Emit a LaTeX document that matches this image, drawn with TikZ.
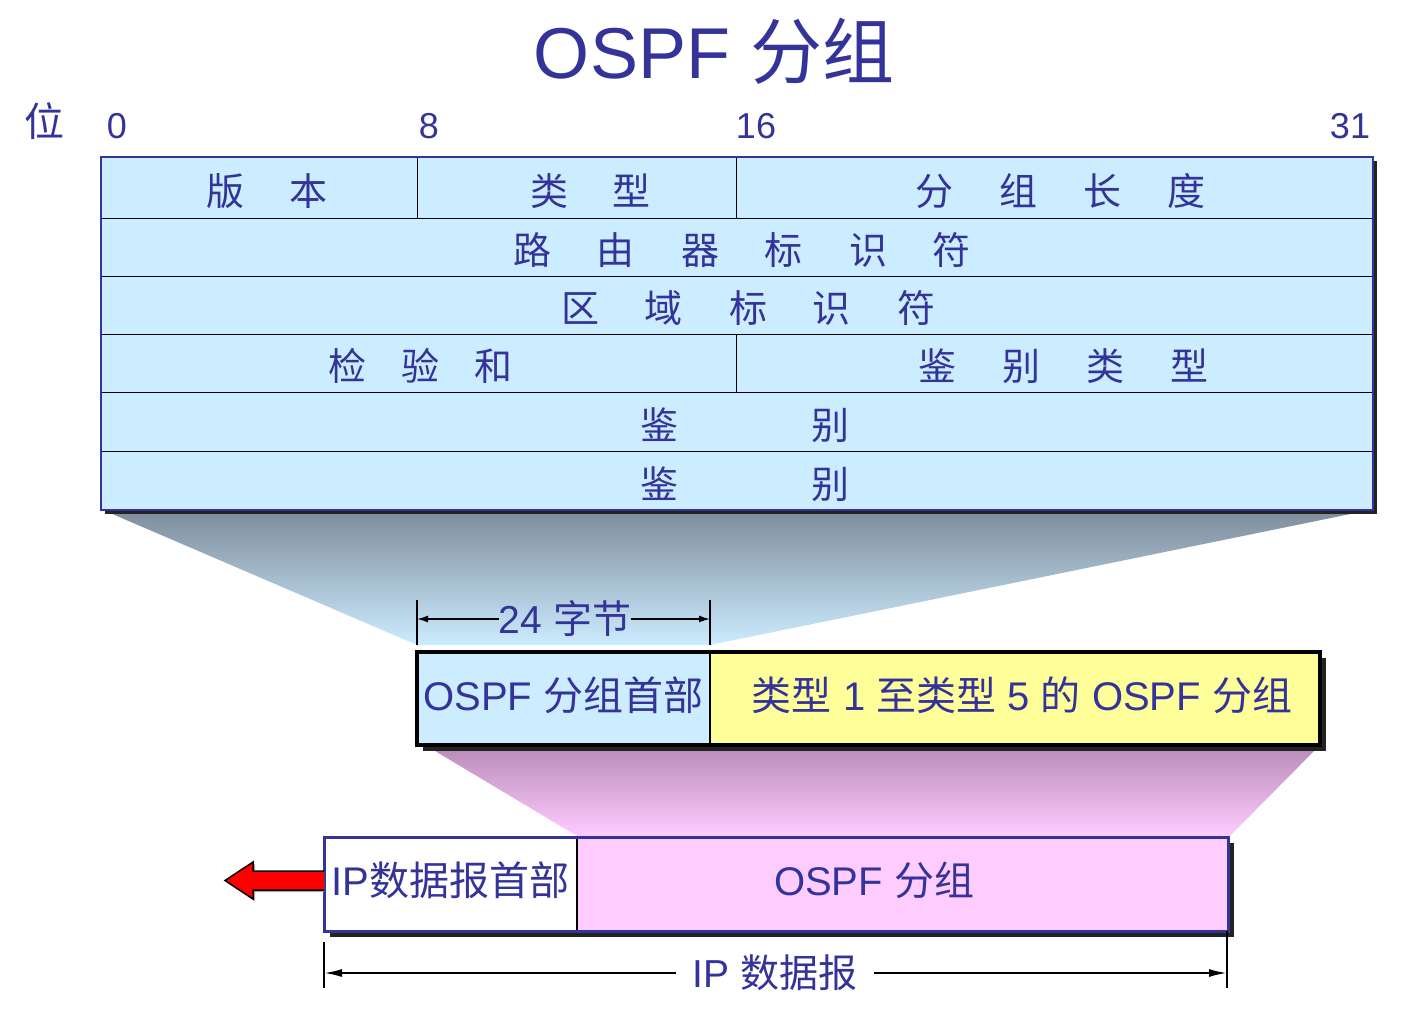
\documentclass[tikz,border=0pt]{standalone}
\usepackage{fontspec}
\setmainfont{Liberation Sans}
\newfontfamily\cjk{Noto Sans CJK SC}
\usetikzlibrary{arrows.meta, positioning, calc}

\definecolor{txtblue}{RGB}{51,51,153}
\definecolor{fieldblue}{RGB}{204,236,255}
\definecolor{hdryellow}{RGB}{255,255,153}
\definecolor{datapink}{RGB}{255,204,255}
\definecolor{shadowgray}{RGB}{35,35,35}
\definecolor{fanblue}{RGB}{126,140,155}
\definecolor{fanpink}{RGB}{184,138,184}

\newcommand{\fgap}{\hspace{46pt}}

\begin{document}
\begin{tikzpicture}[
  x=1pt, y=-1pt,
  field/.style={draw=black, line width=1pt, fill=fieldblue, inner sep=0pt, outer sep=0pt,
    anchor=north west, minimum height=58pt, text height=36pt, text depth=1pt,
    text=txtblue, font=\cjk\fontsize{38}{40}\selectfont},
  pktbox/.style={draw=black, line width=2pt, inner sep=0pt, outer sep=0pt, anchor=north west,
    text height=28pt, text depth=5pt, text=txtblue, font=\fontsize{40}{44}\selectfont},
  bitnum/.style={anchor=base, text=txtblue, font=\fontsize{36}{40}\selectfont},
  dimlabel/.style={inner sep=0pt, text=txtblue, font=\fontsize{39}{42}\selectfont},
  tickline/.style={black, line width=1.5pt},
  dimarrow/.style={-{Latex[length=11pt,width=7pt]}, black, line width=1.5pt},
  redarrow/.style={fill=red, draw=black, line width=1.5pt, line join=miter}
]
\useasboundingbox (0,0) rectangle (1416,1031);

% corners of the three boxes
\coordinate (tabNW) at (101,157);
\coordinate (tabSE) at (1373,510);
\coordinate (midNW) at (417,652);
\coordinate (midSE) at (1320,745);
\coordinate (botNW) at (324,837);
\coordinate (botSE) at (1228,931);

% fans between the boxes
\shade[top color=fanblue, bottom color=fieldblue] (103,510) -- (1370,510) -- (710,645) -- (417,645) -- cycle;
\shade[top color=fanpink, bottom color=datapink] (425,745) -- (1320,745) -- (1230,836) -- (577,836) -- cycle;

% shadows
\fill[shadowgray] ($(tabNW)+(4,4)$) rectangle ($(tabSE)+(4,4)$);
\fill[shadowgray] ($(midNW)+(6,6)$) rectangle ($(midSE)+(6,6)$);
\fill[shadowgray] ($(botNW)+(6,6)$) rectangle ($(botSE)+(6,6)$);

% title and bit positions
\node[anchor=base, text=txtblue, font=\fontsize{72}{76}\selectfont] (title) at (714,78) {OSPF {\cjk 分组}};
\node[anchor=base, text=txtblue, font=\cjk\fontsize{40}{44}\selectfont] (wei) at (44,136) {位};
\node[bitnum] (b0) at (117,138) {0};
\node[bitnum] (b8) at (429,138) {8};
\node[bitnum] (b16) at (756,138) {16};
\node[bitnum] (b31) at (1350,138) {31};

% OSPF header fields
\node[field, minimum width=316pt, minimum height=61pt] (ver) at (tabNW) {\hspace{16pt}版\hspace{45pt}本};
\node[field, minimum width=319pt, minimum height=61pt, right=0pt of ver] (type) {\hspace{28pt}类\hspace{45pt}型};
\node[field, minimum width=637pt, minimum height=61pt, right=0pt of type] (len) {\hspace{12pt}分\fgap 组\fgap 长\fgap 度};
\node[field, minimum width=1272pt, below=0pt of ver.south west, anchor=north west] (rtr) {\hspace{10pt}路\fgap 由\fgap 器\fgap 标\fgap 识\fgap 符};
\node[field, minimum width=1272pt, below=0pt of rtr.south west, anchor=north west] (area) {\hspace{22pt}区\fgap 域\fgap 标\fgap 识\fgap 符};
\node[field, minimum width=635pt, below=0pt of area.south west, anchor=north west] (cksum) {\hspace{3pt}检\hspace{35pt}验\hspace{35pt}和};
\node[field, minimum width=637pt, right=0pt of cksum] (autype) {\hspace{18pt}鉴\fgap 别\fgap 类\fgap 型};
\node[field, minimum width=1272pt, minimum height=59pt, below=0pt of cksum.south west, anchor=north west] (auth1) {\hspace{16pt}鉴\hspace{133pt}别};
\node[field, minimum width=1272pt, minimum height=59pt, below=0pt of auth1.south west, anchor=north west] (auth2) {\hspace{16pt}鉴\hspace{133pt}别};
\draw[txtblue, line width=2.5pt] (ver.north west) rectangle (auth2.south east);

% OSPF packet
\node[pktbox, fill=fieldblue, minimum width=293pt, minimum height=93pt] (hdr) at (midNW) {OSPF {\cjk 分组首部}};
\node[pktbox, fill=hdryellow, minimum width=610pt, minimum height=93pt, right=0pt of hdr] (body) {\hspace{14pt}{\cjk 类型} 1 {\cjk 至类型} 5 {\cjk 的} OSPF {\cjk 分组}};
\draw[black, line width=3.5pt] (hdr.north west) rectangle (body.south east);

% 24 bytes
\coordinate (hdrL) at (417,600);
\coordinate (hdrR) at (710,600);
\draw[tickline] (hdrL) -- ++(0,45);
\draw[tickline] (hdrR) -- ++(0,45);
\node[dimlabel] (bytes) at (565,619) {24 {\cjk 字节}};
\draw[dimarrow] (bytes.west) -- (bytes.west -| hdrL);
\draw[dimarrow] (bytes.east) -- (bytes.east -| hdrR);

% IP datagram
\node[pktbox, fill=white, minimum width=253pt, minimum height=94pt] (iphdr) at (botNW) {IP{\cjk 数据报首部}};
\node[pktbox, fill=datapink, minimum width=651pt, minimum height=94pt, right=0pt of iphdr] (ipdata) {OSPF {\cjk 分组}\kern57pt};
\draw[txtblue, line width=3pt] (iphdr.north west) rectangle (ipdata.south east);

\fill[gray!70] ($(iphdr.west)+(0,-11)$) -- ++(-69,0) -- ++(0,-9) -- ++(-28,18.5) -- ++(28,18.5) -- ++(0,-9) -- ++(69,0) -- cycle;
\draw[redarrow] ($(iphdr.west)+(0,-13)$) -- ++(-71,0) -- ++(0,-9) -- ++(-28,18.5) -- ++(28,18.5) -- ++(0,-9) -- ++(71,0);

\coordinate (ipL) at (324,942);
\coordinate (ipR) at (1227,931);
\draw[tickline, line width=2pt] (ipL) -- ++(0,46);
\draw[tickline, line width=2pt] (ipR) -- ++(0,57);
\node[dimlabel, inner xsep=16pt] (iplen) at (775,973) {IP {\cjk 数据报}};
\draw[dimarrow, line width=2pt, -{Latex[length=18pt,width=8pt]}] (iplen.west) -- (iplen.west -| ipL);
\draw[dimarrow, line width=2pt, -{Latex[length=18pt,width=8pt]}] (iplen.east) -- (iplen.east -| ipR);
\end{tikzpicture}
\end{document}
